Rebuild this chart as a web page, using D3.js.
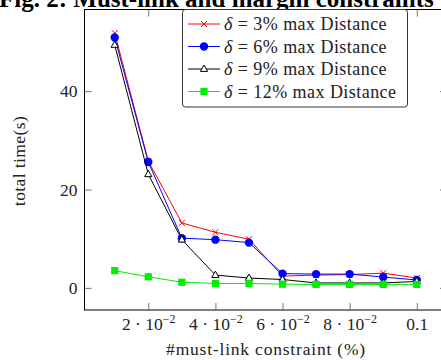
<!DOCTYPE html>
<html><head><meta charset="utf-8">
<script src="https://cdn.jsdelivr.net/npm/d3@7"></script>
<style>
body{margin:0;background:#fff;}
svg{display:block;}
</style></head>
<body>
<svg id="c" width="441" height="360"></svg>
<script>
const xValues = [0.01,0.02,0.03,0.04,0.05,0.06,0.07,0.08,0.09,0.1];
const delta3  = [51.8,25.8,13.2,11.3,9.9,2.4,2.6,2.7,3.0,2.0];
const delta6  = [50.9,25.6,10.1,9.8,9.2,2.9,2.8,2.8,2.2,1.6];
const delta9  = [49.4,23.1,9.8,2.6,2.0,1.7,1.0,1.0,1.0,1.3];
const delta12 = [3.5,2.25,1.15,0.9,0.9,0.75,0.7,0.7,0.7,0.7];
const seriesNames = ["δ = 3% max Distance","δ = 6% max Distance","δ = 9% max Distance","δ = 12% max Distance"];
const xTicks = [0.02,0.04,0.06,0.08,0.1];
const xTickLabels = [["2 · 10","−2"],["4 · 10","−2"],["6 · 10","−2"],["8 · 10","−2"],["0.1",""]];
const yTicks = [0,20,40];
const titleText = "Fig. 2: Must-link and margin constraints";
const xLabel = "#must-link constraint (%)";
const yLabel = "total time(s)";

const FONT = "'Liberation Serif', 'Times New Roman', serif";
const svg = d3.select("#c");
const L=84.5, R=447, T=9.5, B=310;
const x = d3.scaleLinear().domain([0.001,0.109]).range([L,R]);
const y = d3.scaleLinear().domain([-4.5,56.6]).range([B,T]);

function txt(sel){ return sel.style("font-family",FONT).style("fill","#222"); }

// title (cut off at top, as in the source image)
svg.append("text").attr("x",-1).attr("y",7).attr("font-size",25).attr("font-weight","bold")
  .style("font-family",FONT).style("fill","#000").text(titleText);

// frame
svg.append("rect").attr("x",L).attr("y",T).attr("width",R-L).attr("height",B-T)
  .attr("fill","none").attr("stroke","#000").attr("stroke-width",1);

// axes
const gx = svg.append("g").attr("transform",`translate(0,${B})`)
  .call(d3.axisBottom(x).tickValues(xTicks).tickSize(-7).tickFormat(""));
const gxTop = svg.append("g").attr("transform",`translate(0,${T})`)
  .call(d3.axisTop(x).tickValues(xTicks).tickSize(-7).tickFormat(""));
const gy = svg.append("g").attr("transform",`translate(${L},0)`)
  .call(d3.axisLeft(y).tickValues(yTicks).tickSize(-7).tickPadding(7));
const gyR = svg.append("g").attr("transform",`translate(${R},0)`)
  .call(d3.axisRight(y).tickValues(yTicks).tickSize(-7).tickFormat(""));
[gx,gxTop,gy,gyR].forEach(g=>{
  g.select(".domain").remove();
  g.selectAll(".tick line").attr("stroke","#555").attr("stroke-width",0.8);
});
gy.selectAll(".tick text").attr("font-size",17.5).call(txt);

// x tick labels with superscripts
gx.selectAll(".tick").each(function(d,i){
  const t = d3.select(this).append("text").attr("y",20).attr("text-anchor","middle")
    .attr("font-size",17.5).call(txt);
  t.append("tspan").text(xTickLabels[i][0]);
  if(xTickLabels[i][1]) t.append("tspan").attr("dy",-7).attr("font-size",12).text(xTickLabels[i][1]);
});

// axis labels
svg.append("text").attr("x",266).attr("y",355).attr("text-anchor","middle").attr("font-size",17.5)
  .style("letter-spacing","0.8px").call(txt).text(xLabel);
svg.append("text").attr("transform","translate(25,161) rotate(-90)").attr("text-anchor","middle").attr("font-size",17.5)
  .style("letter-spacing","0.4px").call(txt).text(yLabel);

const line = d3.line().x((d,i)=>x(xValues[i])).y(d=>y(d));
const series = [
  {v:delta3, c:"#ff0000", m:"cross"},
  {v:delta6, c:"#0000ff", m:"circle"},
  {v:delta9, c:"#000000", m:"triangle"},
  {v:delta12, c:"#00ee00", m:"square"}
];
function marker(g, type, c, cx, cy){
  if(type==="cross"){
    g.append("path").attr("d",`M${cx-3},${cy-3}L${cx+3},${cy+3}M${cx-3},${cy+3}L${cx+3},${cy-3}`)
      .attr("stroke",c).attr("stroke-width",1);
  } else if(type==="circle"){
    g.append("circle").attr("cx",cx).attr("cy",cy).attr("r",4.2).attr("fill",c);
  } else if(type==="triangle"){
    g.append("path").attr("d",`M${cx},${cy-4}L${cx+3.6},${cy+2.4}L${cx-3.6},${cy+2.4}Z`)
      .attr("fill","#fff").attr("stroke",c).attr("stroke-width",1);
  } else {
    g.append("rect").attr("x",cx-3.6).attr("y",cy-3.6).attr("width",7.2).attr("height",7.2).attr("fill",c);
  }
}
series.forEach(s=>{
  const g = svg.append("g");
  g.append("path").datum(s.v).attr("d",line).attr("fill","none").attr("stroke",s.c).attr("stroke-width",1);
  s.v.forEach((d,i)=>marker(g,s.m,s.c,x(xValues[i]),y(d)));
});

// legend
const lg = svg.append("g");
lg.append("rect").attr("x",182.5).attr("y",9.5).attr("width",225).attr("height",97.5).attr("rx",3)
  .attr("fill","#fff").attr("stroke","#333").attr("stroke-width",1);
series.forEach((s,i)=>{
  const cy = 24 + i*22.5;
  lg.append("line").attr("x1",188).attr("x2",220).attr("y1",cy).attr("y2",cy).attr("stroke",s.c).attr("stroke-width",1);
  marker(lg,s.m,s.c,204,cy);
  const t = lg.append("text").attr("x",224).attr("y",cy+6).attr("font-size",18).style("letter-spacing","0.45px").call(txt);
  const name = seriesNames[i];
  t.append("tspan").style("font-style","italic").text(name.charAt(0));
  t.append("tspan").text(name.slice(1));
});
</script>
</body></html>
